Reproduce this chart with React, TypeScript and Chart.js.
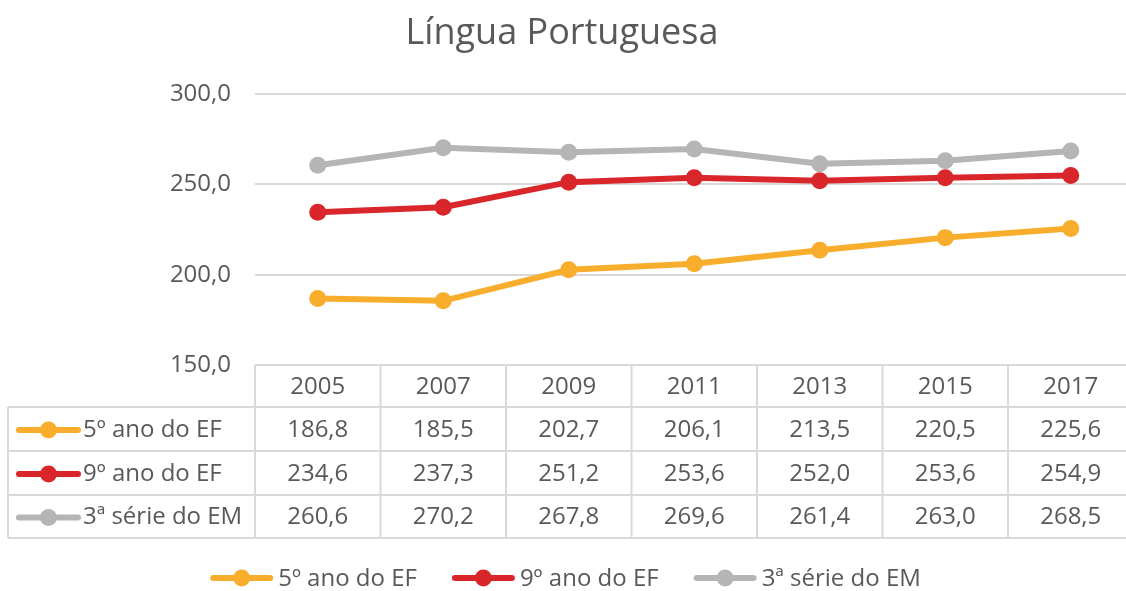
import React, { useEffect, useRef } from "react";
import { Chart, registerables } from "chart.js";

Chart.register(...registerables);

const titleText = "Língua Portuguesa";
const years = ["2005", "2007", "2009", "2011", "2013", "2015", "2017"];
const seriesNames = ["5º ano do EF", "9º ano do EF", "3ª série do EM"];
const ano5 = [186.8, 185.5, 202.7, 206.1, 213.5, 220.5, 225.6];
const ano9 = [234.6, 237.3, 251.2, 253.6, 252.0, 253.6, 254.9];
const serie3 = [260.6, 270.2, 267.8, 269.6, 261.4, 263.0, 268.5];
const seriesColors = ["#F9AD2C", "#D9262B", "#B5B5B5"];
const yTicks = [150, 200, 250, 300];

const FONT = "'Open Sans', sans-serif";
const TEXT = "#595959";
const GRID = "#D9D9D9";

const fmt = (v: number) => v.toFixed(1).replace(".", ",");

export default function App() {
  const ref = useRef<HTMLCanvasElement | null>(null);

  useEffect(() => {
    document.body.style.margin = "0";
    const canvas = ref.current;
    if (!canvas) return;
    const allSeries = [ano5, ano9, serie3];

    const drawMarker = (ctx: CanvasRenderingContext2D, x0: number, x1: number, y: number, color: string) => {
      ctx.save();
      ctx.strokeStyle = color;
      ctx.lineWidth = 6;
      ctx.lineCap = "round";
      ctx.beginPath();
      ctx.moveTo(x0, y);
      ctx.lineTo(x1, y);
      ctx.stroke();
      ctx.fillStyle = color;
      ctx.beginPath();
      ctx.arc((x0 + x1) / 2, y, 8.5, 0, Math.PI * 2);
      ctx.fill();
      ctx.restore();
    };

    const tablePlugin = {
      id: "tablePlugin",
      afterDraw(chart: any) {
        const ctx: CanvasRenderingContext2D = chart.ctx;
        const area = chart.chartArea;
        const xs = chart.scales.x;
        const half = (xs.getPixelForValue(1) - xs.getPixelForValue(0)) / 2;
        const left = 8;
        const top = area.bottom;
        const rowBounds = [top, 407, 451, 495, 538];
        const colLeft = xs.getPixelForValue(0) - half;
        const colRight = xs.getPixelForValue(years.length - 1) + half;

        ctx.save();
        // title
        ctx.fillStyle = TEXT;
        ctx.font = `36px ${FONT}`;
        ctx.textAlign = "center";
        ctx.textBaseline = "middle";
        ctx.fillText(titleText, 562, 34);

        // grid lines of table
        ctx.strokeStyle = GRID;
        ctx.lineWidth = 2;
        ctx.beginPath();
        ctx.moveTo(colLeft, rowBounds[0]);
        ctx.lineTo(colRight, rowBounds[0]);
        for (let r = 1; r < rowBounds.length; r++) {
          ctx.moveTo(left, rowBounds[r]);
          ctx.lineTo(colRight, rowBounds[r]);
        }
        ctx.moveTo(left, rowBounds[1]);
        ctx.lineTo(left, rowBounds[4]);
        for (let i = 0; i <= years.length; i++) {
          const x = colLeft + i * half * 2;
          ctx.moveTo(x, rowBounds[0]);
          ctx.lineTo(x, rowBounds[4]);
        }
        ctx.stroke();

        ctx.font = `24px ${FONT}`;
        ctx.fillStyle = TEXT;
        ctx.textBaseline = "middle";
        ctx.textAlign = "center";
        years.forEach((yr, i) => {
          ctx.fillText(yr, xs.getPixelForValue(i), (rowBounds[0] + rowBounds[1]) / 2 + 1);
        });
        allSeries.forEach((vals, s) => {
          const cy = (rowBounds[s + 1] + rowBounds[s + 2]) / 2 + 1;
          ctx.textAlign = "center";
          vals.forEach((v, i) => {
            ctx.fillText(fmt(v), xs.getPixelForValue(i), cy);
          });
          drawMarker(ctx, 19, 78, cy, seriesColors[s]);
          ctx.fillStyle = TEXT;
          ctx.textAlign = "left";
          ctx.fillText(seriesNames[s], 83, cy);
        });

        // bottom legend
        const ly = 578;
        const markW = 57;
        const gapT = 8;
        const gapItem = 38;
        const widths = seriesNames.map((n) => ctx.measureText(n).width);
        const total = widths.reduce((a, w) => a + markW + gapT + w, 0) + gapItem * (seriesNames.length - 1);
        let x = 567 - total / 2;
        seriesNames.forEach((n, s) => {
          drawMarker(ctx, x, x + markW, ly, seriesColors[s]);
          ctx.fillStyle = TEXT;
          ctx.textAlign = "left";
          ctx.fillText(n, x + markW + gapT, ly + 1);
          x += markW + gapT + widths[s] + gapItem;
        });
        ctx.restore();
      },
    };

    const chart = new Chart(canvas, {
      type: "line",
      data: {
        labels: years,
        datasets: allSeries.map((vals, s) => ({
          label: seriesNames[s],
          data: vals,
          borderColor: seriesColors[s],
          backgroundColor: seriesColors[s],
          borderWidth: 6,
          pointRadius: 8.5,
          pointBorderWidth: 0,
          pointBackgroundColor: seriesColors[s],
          tension: 0,
        })),
      },
      options: {
        responsive: false,
        animation: false,
        devicePixelRatio: 1,
        layout: { padding: { top: 94, bottom: 591 - 365, left: 0, right: 2 } },
        plugins: { legend: { display: false }, title: { display: false }, tooltip: { enabled: false } },
        scales: {
          x: { display: false, offset: true },
          y: {
            min: 150,
            max: 300,
            afterFit: (axis: any) => {
              axis.width = 255;
            },
            afterBuildTicks: (axis: any) => {
              axis.ticks = yTicks.map((v) => ({ value: v }));
            },
            border: { display: false },
            grid: { color: GRID, lineWidth: 2, drawTicks: false },
            ticks: {
              padding: 24,
              color: TEXT,
              font: { family: "'Open Sans', sans-serif", size: 24 },
              callback: (v: any) => fmt(Number(v)),
            },
          },
        },
      },
      plugins: [tablePlugin],
    });
    return () => chart.destroy();
  }, []);

  return (
    <div style={{ width: 1126, height: 591, overflow: "hidden", position: "relative", background: "#fff" }}>
      <canvas ref={ref} width={1142} height={591} style={{ display: "block" }} />
    </div>
  );
}
